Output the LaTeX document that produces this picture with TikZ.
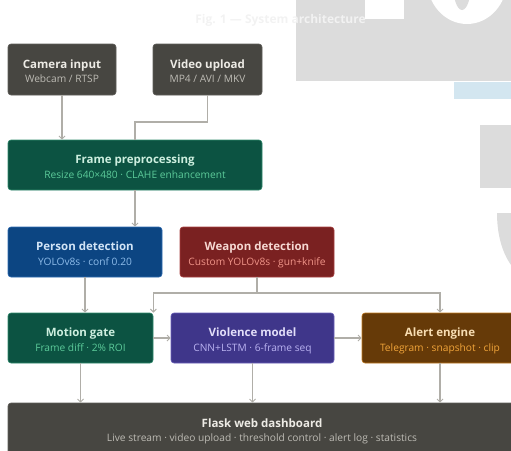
\documentclass[tikz,border=0pt]{standalone}
\usepackage{fontspec}
\setmainfont{Open Sans}
\usetikzlibrary{arrows.meta}
\definecolor{bggray}{HTML}{DCDCDC}
\definecolor{bgblue}{HTML}{D3E6F0}
\definecolor{conn}{HTML}{B0AEA8}
\definecolor{darkfill}{HTML}{474641}
\definecolor{darkline}{HTML}{5E5D58}
\definecolor{darkt}{HTML}{EDEBE5}
\definecolor{darks}{HTML}{BDBBB4}
\definecolor{grnfill}{HTML}{0C5342}
\definecolor{grnline}{HTML}{2F8A6C}
\definecolor{grnt}{HTML}{CDEFDF}
\definecolor{grns}{HTML}{5CCB9A}
\definecolor{blufill}{HTML}{0C4582}
\definecolor{bluline}{HTML}{2C6AB0}
\definecolor{blut}{HTML}{D2E4F6}
\definecolor{blus}{HTML}{8EBCEA}
\definecolor{redfill}{HTML}{7A2121}
\definecolor{redline}{HTML}{A84040}
\definecolor{redt}{HTML}{F6D8D2}
\definecolor{reds}{HTML}{F09488}
\definecolor{purfill}{HTML}{3F368A}
\definecolor{purline}{HTML}{6A60B8}
\definecolor{purt}{HTML}{E2DEF9}
\definecolor{purs}{HTML}{B9B2F0}
\definecolor{brnfill}{HTML}{663A08}
\definecolor{brnline}{HTML}{C07A20}
\definecolor{brnt}{HTML}{F8DDB2}
\definecolor{brns}{HTML}{F2A53A}
\tikzset{
  blk/.style={rounded corners=3pt, line width=0.6pt, inner sep=0pt, minimum height=51pt, align=center},
  conn/.style={draw=conn, line width=1.2pt, -{Straight Barb[length=3pt,width=6pt,line width=1pt]}},
  connl/.style={draw=conn, line width=1.2pt},
}
\newcommand{\bx}[4]{\rule{0pt}{14pt}\textcolor{#1}{\fontsize{11.5}{13}\selectfont\bfseries #2}\\[2.5pt]\textcolor{#3}{\fontsize{10.2}{11}\selectfont #4\rule[-2.5pt]{0pt}{2.5pt}}}
\begin{document}
\begin{tikzpicture}[x=1pt,y=-1pt]
\useasboundingbox (0,0) rectangle (511,450);
\clip (0,0) rectangle (511,450);
% background decorations
\fill[bggray] (296,0) rectangle (520,81);
\fill[white] (365,0) rectangle (404,19);
\fill[white] (467,-20) ellipse [x radius=40, y radius=44];
\fill[bggray] (462,-16) ellipse [x radius=9, y radius=26];
\fill[bgblue] (454,82) rectangle (520,99);
\fill[bggray] (480,125) rectangle (520,188);
\fill[bggray] (497,213) -- (520,213) -- (520,275) .. controls (505,262) and (497,240) .. (497,213) -- cycle;
% title
\node[text=white!95!black, font=\fontsize{12}{14}\selectfont\bfseries] (title) at (280.5,20) {Fig. 1 — System architecture};
% nodes
\node[blk, fill=darkfill, draw=darkline, minimum width=108pt] (cam) at (62,69.5) {\bx{darkt}{Camera input}{darks}{Webcam / RTSP}};
\node[blk, fill=darkfill, draw=darkline, minimum width=109pt] (vid) at (207.5,69.5) {\bx{darkt}{Video upload}{darks}{MP4 / AVI / MKV}};
\node[blk, fill=grnfill, draw=grnline, minimum width=254pt, minimum height=50pt] (pre) at (135,165) {\bx{grnt}{Frame preprocessing}{grns}{Resize 640×480 · CLAHE enhancement}};
\node[blk, fill=blufill, draw=bluline, minimum width=154pt, minimum height=50pt] (per) at (85,252) {\bx{blut}{Person detection}{blus}{YOLOv8s · conf 0.20}};
\node[blk, fill=redfill, draw=redline, minimum width=154pt, minimum height=50pt] (wep) at (257,252) {\bx{redt}{Weapon detection}{reds}{Custom YOLOv8s · gun+knife}};
\node[blk, fill=grnfill, draw=grnline, minimum width=145pt, minimum height=50pt] (mot) at (80.5,338) {\bx{grnt}{Motion gate}{grns}{Frame diff · 2\% ROI}};
\node[blk, fill=purfill, draw=purline, minimum width=163pt, minimum height=50pt] (vio) at (252.5,338) {\bx{purt}{Violence model}{purs}{CNN+LSTM · 6-frame seq}};
\node[blk, fill=brnfill, draw=brnline, minimum width=156pt, minimum height=50pt] (alr) at (440,338) {\bx{brnt}{Alert engine}{brns}{Telegram · snapshot · clip}};
\node[blk, fill=darkfill, draw=darkline, minimum width=508pt, minimum height=51pt] (web) at (262,428.5) {\bx{darkt}{Flask web dashboard}{darks}{Live stream · video upload · threshold control · alert log · statistics}};
% connectors
\draw[conn] (cam.south) -- (pre.north -| cam.south);
\draw[connl] (vid.south) |- (135,122) -- (pre.north);
\draw[conn] (pre.south) -- (per.north -| pre.south);
\draw[conn] (per.south) -- (mot.north -| per.south);
\coordinate (wj) at (257,293);
\draw[conn] (wep.south) -- (wj) -| (mot.north east);
\draw[conn] (wj) -| (alr.north);
\draw[conn] (mot.east) -- (vio.west);
\draw[conn] (vio.east) -- (alr.west);
\draw[conn] (mot.south) -- (web.north -| mot.south);
\draw[conn] (vio.south) -- (web.north -| vio.south);
\draw[conn] (alr.south) -- (web.north -| alr.south);
\end{tikzpicture}
\end{document}
